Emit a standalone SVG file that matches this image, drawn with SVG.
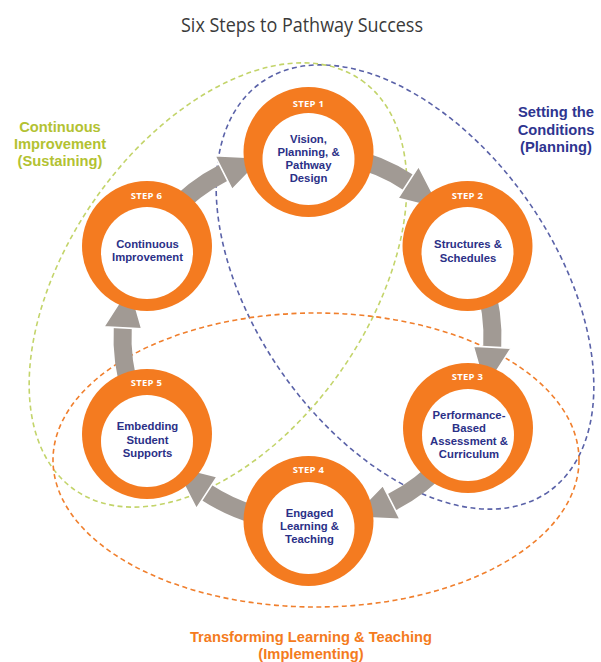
<svg xmlns="http://www.w3.org/2000/svg" xmlns:xlink="http://www.w3.org/1999/xlink" width="601" height="662" viewBox="0 0 601 662">
<style>
.ring{fill:#f47b20}
.hole{fill:#ffffff}
.step{font-family:"Open Sans","Liberation Sans",sans-serif;font-weight:700;font-size:9.5px;fill:#ffffff;text-anchor:middle;letter-spacing:0.3px}
.nt{font-family:"Liberation Sans",Arial,sans-serif;font-weight:700;font-size:11.3px;fill:#2b3087;text-anchor:middle}
.lbl{font-family:"Liberation Sans",Arial,sans-serif;font-weight:700;font-size:14.7px;text-anchor:middle}
.dash{fill:none;stroke-width:1.6;stroke-dasharray:5 3.5}
.arw{fill:#a19a94}
.head{fill:#a19a94;stroke:#ffffff;stroke-width:1.6;stroke-linejoin:miter}
</style>
<defs>
<g id="arrow">
<path class="arw" d="M189.76,40.33 A194,194 0 0,1 162.70,105.66 L147.61,95.86 A176,176 0 0,0 172.15,36.59 Z"/>
<path class="head" d="M171.09,111.11 L128.51,133.08 L139.22,90.41 Z"/>
</g>
</defs>
<rect width="601" height="662" fill="#ffffff"/>
<text x="302" y="32" font-family="'Open Sans','Liberation Sans',sans-serif" font-size="19.5" fill="#3a3a3a" text-anchor="middle" textLength="242" lengthAdjust="spacingAndGlyphs">Six Steps to Pathway Success</text>
<g id="phases">
<ellipse class="dash" stroke="#5a62a8" cx="405" cy="287" rx="250" ry="150" transform="rotate(55 405 287)"/>
<ellipse class="dash" stroke="#c3d46a" cx="218" cy="285" rx="250" ry="150" transform="rotate(-55 218 285)"/>
<ellipse class="dash" stroke="#f07f2d" cx="316" cy="460" rx="263" ry="147"/>
</g>
<g id="connectors">
<use xlink:href="#arrow" transform="translate(307.5 337.5) rotate(-90)"/>
<use xlink:href="#arrow" transform="translate(307.5 337.5) rotate(-30)"/>
<use xlink:href="#arrow" transform="translate(307.5 337.5) rotate(30)"/>
<use xlink:href="#arrow" transform="translate(307.5 337.5) rotate(90)"/>
<use xlink:href="#arrow" transform="translate(307.5 337.5) rotate(150)"/>
<use xlink:href="#arrow" transform="translate(307.5 337.5) rotate(210)"/>
</g>
<g id="step1">
<circle class="ring" cx="308.5" cy="152" r="65"/>
<circle class="hole" cx="308.5" cy="159" r="46"/>
<text class="step" x="308.5" y="106.5">STEP 1</text>
<text class="nt"><tspan x="308.5" y="143">Vision,</tspan><tspan x="308.5" y="156">Planning, &amp;</tspan><tspan x="308.5" y="169">Pathway</tspan><tspan x="308.5" y="182">Design</tspan></text>
</g>
<g id="step2">
<circle class="ring" cx="467.5" cy="246" r="65"/>
<circle class="hole" cx="467.5" cy="253" r="46"/>
<text class="step" x="467.5" y="198.5">STEP 2</text>
<text class="nt"><tspan x="468" y="248">Structures &amp;</tspan><tspan x="468" y="261.5">Schedules</tspan></text>
</g>
<g id="step3">
<circle class="ring" cx="468" cy="428" r="65"/>
<circle class="hole" cx="468" cy="435" r="46"/>
<text class="step" x="467.5" y="379.5">STEP 3</text>
<text class="nt"><tspan x="469" y="419">Performance-</tspan><tspan x="469" y="432">Based</tspan><tspan x="469" y="445">Assessment &amp;</tspan><tspan x="469" y="458">Curriculum</tspan></text>
</g>
<g id="step4">
<circle class="ring" cx="308.5" cy="521" r="65"/>
<circle class="hole" cx="308.5" cy="528" r="46"/>
<text class="step" x="308.5" y="473">STEP 4</text>
<text class="nt"><tspan x="309.5" y="517">Engaged</tspan><tspan x="309.5" y="530">Learning &amp;</tspan><tspan x="309.5" y="543">Teaching</tspan></text>
</g>
<g id="step5">
<circle class="ring" cx="147" cy="434" r="65"/>
<circle class="hole" cx="147" cy="441" r="46"/>
<text class="step" x="146.5" y="386">STEP 5</text>
<text class="nt"><tspan x="147.5" y="430">Embedding</tspan><tspan x="147.5" y="443.5">Student</tspan><tspan x="147.5" y="457">Supports</tspan></text>
</g>
<g id="step6">
<circle class="ring" cx="147" cy="246" r="65"/>
<circle class="hole" cx="147" cy="253" r="46"/>
<text class="step" x="146.5" y="198.5">STEP 6</text>
<text class="nt"><tspan x="147.5" y="247.5">Continuous</tspan><tspan x="147.5" y="261">Improvement</tspan></text>
</g>
<g id="labels">
<text class="lbl" fill="#b3c232"><tspan x="60" y="132">Continuous</tspan><tspan x="60" y="149">Improvement</tspan><tspan x="60" y="166">(Sustaining)</tspan></text>
<text class="lbl" fill="#2e3590"><tspan x="556" y="117">Setting the</tspan><tspan x="556" y="134.5">Conditions</tspan><tspan x="556" y="152">(Planning)</tspan></text>
<text class="lbl" fill="#f47b20"><tspan x="311" y="641.5">Transforming Learning &amp; Teaching</tspan><tspan x="311" y="659">(Implementing)</tspan></text>
</g>
</svg>
